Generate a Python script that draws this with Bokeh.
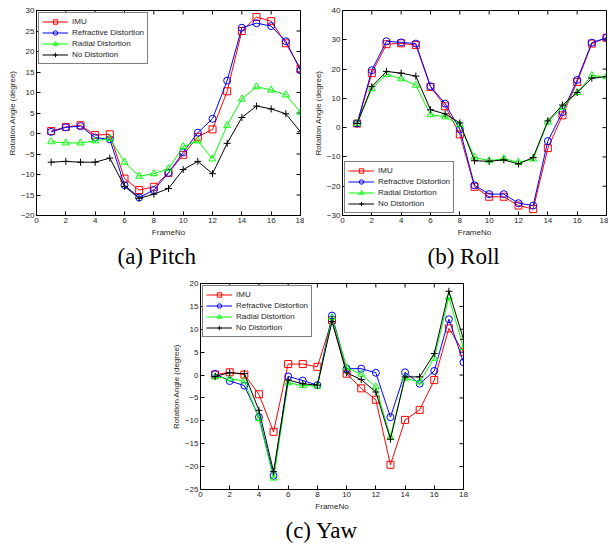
import math
from bokeh.plotting import figure
from bokeh.models import Range1d, FixedTicker, Title, Spacer
from bokeh.layouts import column, row
from bokeh.embed import file_html
from bokeh.resources import INLINE

frames = list(range(1, 19))
series_names = ["IMU", "Refractive Distortion", "Radial Distortion", "No Distortion"]
x_ticks = [0, 2, 4, 6, 8, 10, 12, 14, 16, 18]
x_limits = (0, 18)

pitch_imu = [0.6, 1.6, 2.0, -0.4, -0.2, -11.0, -13.8, -13.0, -9.6, -5.2, -0.8, 1.0, 10.3, 25.0, 28.4, 27.4, 22.0, 15.8]
pitch_refr = [0.4, 1.5, 1.8, -1.0, -1.4, -12.6, -15.6, -13.8, -9.6, -4.6, 0.2, 3.6, 12.9, 25.8, 26.9, 26.2, 22.5, 15.4]
pitch_radial = [-2.0, -2.3, -2.3, -1.8, -1.2, -7.0, -10.4, -9.8, -8.6, -3.2, -1.8, -6.2, 2.0, 8.4, 11.4, 10.6, 9.4, 5.2]
pitch_nodist = [-7.0, -6.8, -7.0, -7.0, -6.0, -12.9, -15.8, -14.8, -13.4, -8.8, -6.8, -9.8, -2.4, 3.9, 6.7, 6.0, 4.8, 0.4]
pitch_yticks = [-20, -15, -10, -5, 0, 5, 10, 15, 20, 25, 30]
pitch_limits = (-20, 30)

roll_imu = [1.4, 18.6, 28.5, 28.8, 28.2, 13.9, 7.3, -2.3, -20.2, -23.6, -23.6, -26.6, -27.8, -7.0, 4.2, 15.6, 28.7, 30.7]
roll_refr = [1.4, 19.6, 29.5, 29.1, 28.7, 14.1, 8.2, -0.6, -19.7, -22.7, -22.7, -25.8, -26.6, -4.6, 5.3, 16.3, 29.0, 30.7]
roll_radial = [1.4, 13.3, 18.2, 16.7, 14.5, 4.4, 3.7, 1.0, -10.1, -11.3, -10.6, -11.8, -10.7, 1.9, 7.0, 12.0, 17.8, 17.4]
roll_nodist = [1.4, 14.0, 19.2, 18.6, 17.6, 6.1, 4.7, 1.6, -11.3, -11.5, -11.0, -12.4, -10.2, 2.3, 7.7, 12.0, 16.9, 17.4]
roll_yticks = [-30, -20, -10, 0, 10, 20, 30, 40]
roll_limits = (-30, 40)

yaw_imu = [0.1, 0.6, 0.1, -4.2, -12.4, 2.4, 2.4, 1.8, 12.0, 0.3, -2.9, -5.4, -19.6, -9.8, -7.6, -1.1, 10.2, 5.0]
yaw_refr = [0.25, -1.3, -2.3, -9.2, -22.0, -0.3, -1.2, -2.2, 13.0, 1.4, 1.4, 0.5, -9.2, 0.6, -1.9, 0.9, 12.2, 2.8]
yaw_radial = [-0.4, -0.8, -1.3, -9.5, -22.5, -1.7, -2.3, -2.4, 12.6, 1.6, 0.2, -2.6, -13.6, -0.7, -1.5, 3.7, 17.0, 6.0]
yaw_nodist = [-0.3, 0.5, 0.3, -7.7, -21.1, -1.1, -1.9, -2.2, 11.7, 0.5, -1.0, -3.7, -14.0, -0.4, -0.4, 4.7, 18.3, 7.8]
yaw_yticks = [-25, -20, -15, -10, -5, 0, 5, 10, 15, 20]
yaw_limits = (-25, 20)

COLORS = ["#ff0000", "#0000ff", "#00ff00", "#000000"]
MARKERS = ["square", "circle", "triangle", "cross"]
SANS = "Liberation Sans"
SERIF = "Liberation Serif"
TXT = "#262626"


def style_axis(ax):
    ax.major_tick_in = 4
    ax.major_tick_out = 0
    ax.minor_tick_in = 0
    ax.minor_tick_out = 0
    ax.axis_line_color = "black"
    ax.major_tick_line_color = "black"
    ax.major_label_text_font = SANS
    ax.major_label_text_font_size = "8px"
    ax.major_label_text_color = TXT
    ax.major_label_standoff = 2
    ax.axis_label_text_font = SANS
    ax.axis_label_text_font_size = "8px"
    ax.axis_label_text_font_style = "normal"
    ax.axis_label_text_color = TXT
    ax.axis_label_standoff = 1


def make_fig(series, yr, yticks, caption, legend_loc, width, height, bl, br, bt, bb,
             title_standoff, title_offset):
    p = figure(width=width, height=height, x_range=Range1d(*x_limits), y_range=Range1d(*yr),
               output_backend="svg", toolbar_location=None,
               min_border_left=bl, min_border_right=br, min_border_top=bt, min_border_bottom=bb)
    p.xgrid.visible = False
    p.ygrid.visible = False
    p.outline_line_color = "black"
    p.xaxis.ticker = FixedTicker(ticks=x_ticks)
    p.yaxis.ticker = FixedTicker(ticks=yticks)
    p.xaxis.axis_label = "FrameNo"
    p.yaxis.axis_label = "Rotation Angle (degree)"
    style_axis(p.xaxis[0])
    style_axis(p.yaxis[0])
    p.xaxis[0].axis_label_standoff = 2

    # inward ticks on the top and right edges of the box (MATLAB style)
    p.scatter(x_ticks, [yr[1]] * len(x_ticks), marker="dash", angle=math.pi / 2, size=8,
              line_color="black", line_width=1)
    p.scatter([x_limits[1]] * len(yticks), yticks, marker="dash", size=8,
              line_color="black", line_width=1)

    for ys, name, c, m in zip(series, series_names, COLORS, MARKERS):
        p.line(frames, ys, line_color=c, line_width=1, legend_label=name)
        p.scatter(frames, ys, marker=m, size=7, line_color=c, fill_color=None,
                  line_width=1, legend_label=name)

    lg = p.legend[0]
    lg.location = legend_loc
    lg.border_line_color = "black"
    lg.border_line_width = 1
    lg.background_fill_alpha = 1
    lg.label_text_font = SANS
    lg.label_text_font_size = "8px"
    lg.label_text_color = TXT
    lg.glyph_width = 26
    lg.glyph_height = 11
    lg.label_height = 11
    lg.label_standoff = 4
    lg.spacing = 0
    lg.padding = 3
    lg.margin = 2

    t = Title(text=caption, align="left", text_font=SERIF, text_font_size="23px",
              text_font_style="normal", text_color="black", standoff=title_standoff,
              offset=title_offset)
    p.add_layout(t, "below")
    return p


p1 = make_fig([pitch_imu, pitch_refr, pitch_radial, pitch_nodist], pitch_limits, pitch_yticks,
              "(a) Pitch", "top_left", 304, 270, 36, 4, 10, 52, 4, 81)
p2 = make_fig([roll_imu, roll_refr, roll_radial, roll_nodist], roll_limits, roll_yticks,
              "(b) Roll", "bottom_left", 304, 270, 38, 2, 10, 52, 4, 85)
p3 = make_fig([yaw_imu, yaw_refr, yaw_radial, yaw_nodist], yaw_limits, yaw_yticks,
              "(c) Yaw", "top_left", 308, 274, 40, 5, 13, 53, 4, 85)

layout = column(row(p1, p2), row(Spacer(width=160, height=10), p3))
open("out.html", "w").write(file_html(layout, INLINE))
